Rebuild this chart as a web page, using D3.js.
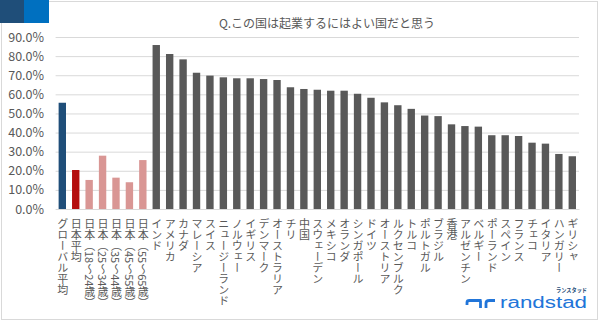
<!DOCTYPE html>
<html><head><meta charset="utf-8">
<script src="https://cdn.jsdelivr.net/npm/d3@7"></script>
<style>
html,body{margin:0;padding:0;background:#fff;}
svg{display:block;font-family:"Noto Sans CJK JP","Noto Sans",sans-serif;}
.vlab{writing-mode:vertical-rl;text-orientation:mixed;font-family:"Noto Sans CJK JP",sans-serif;font-size:11px;line-height:13px;color:#595959;white-space:nowrap;width:13px;height:120px;margin:0;padding:0;}
</style></head>
<body>
<svg id="chart" width="600" height="322"></svg>
<script>
const title = "Q.この国は起業するにはよい国だと思う";
const categories = ["グローバル平均","日本平均","日本（18～24歳）","日本（25～34歳）","日本（35～44歳）","日本（45～55歳）","日本（55～65歳）",
 "インド","アメリカ","カナダ","マレーシア","スイス","ニュージーランド","ノルウェー","イギリス","デンマーク","オーストラリア",
 "チリ","中国","スウェーデン","メキシコ","オランダ","シンガポール","ドイツ","オーストリア","ルクセンブルク","トルコ",
 "ポルトガル","ブラジル","香港","アルゼンチン","ベルギー","ポーランド","スペイン","フランス","チェコ","イタリア","ハンガリー","ギリシャ"];
const values = [55.6,20.4,15.2,27.9,16.4,14.0,25.6,
 85.8,81.1,78.3,71.3,69.8,68.9,68.4,68.4,68.0,67.5,
 63.7,62.8,62.4,61.9,61.9,60.3,58.2,55.8,54.3,52.4,
 48.9,48.6,44.3,43.4,43.1,38.6,38.6,38.2,34.7,34.2,28.8,27.6];
const groups = ["global","japan","age","age","age","age","age"].concat(Array(32).fill("country"));
const yTicks = [0,10,20,30,40,50,60,70,80,90];

const svg = d3.select("#chart");
const color = d3.scaleOrdinal().domain(["global","japan","age","country"]).range(["#1f4e79","#b40d0d","#d99694","#595959"]);

// frame
svg.append("rect").attr("x",1.5).attr("y",1.5).attr("width",596).attr("height",318)
  .attr("fill","none").attr("stroke","#d9d9d9").attr("stroke-width",1);
// header blocks
svg.append("rect").attr("x",0).attr("y",0).attr("width",24).attr("height",23).attr("fill","#1f4e79");
svg.append("rect").attr("x",24).attr("y",0).attr("width",25).attr("height",23).attr("fill","#0070c0");

const x = d3.scaleBand().domain(categories).range([55.6,579]).paddingInner(0.45).paddingOuter(0.225);
const y = d3.scaleLinear().domain([0,90]).range([209,37]);

// gridlines
const grid = svg.append("g").attr("transform","translate(55.6,0)")
  .call(d3.axisLeft(y).tickValues(yTicks).tickSize(-(579-55.6)).tickFormat(""));
grid.select(".domain").remove();
grid.selectAll("line").attr("stroke","#d9d9d9").attr("stroke-width",1);

// y axis labels
const ya = svg.append("g").attr("transform","translate(44,0)")
  .call(d3.axisLeft(y).tickValues(yTicks).tickSize(0).tickPadding(0).tickFormat(d=>d.toFixed(1)+"%"));
ya.select(".domain").remove();
ya.selectAll("text").attr("fill","#595959").style("font-size","12.5px").style("font-family","'Noto Sans CJK JP',sans-serif");

// bars
svg.append("g").selectAll("rect").data(categories).join("rect")
  .attr("x",d=>x(d)).attr("width",x.bandwidth())
  .attr("y",(d,i)=>y(values[i])).attr("height",(d,i)=>y(0)-y(values[i]))
  .attr("fill",(d,i)=>color(groups[i]));

// x axis
const xa = svg.append("g").attr("transform","translate(0,209)")
  .call(d3.axisBottom(x).tickSize(0).tickPadding(0).tickFormat(""));
xa.select(".domain").attr("stroke","#d9d9d9");
xa.selectAll(".tick").each(function(d){
  const fo = d3.select(this).append("foreignObject")
    .attr("x",-6.5).attr("y",9).attr("width",13).attr("height",110);
  fo.append("xhtml:div").attr("class","vlab").text(d);
});

// title
svg.append("text").attr("x",327).attr("y",28).attr("text-anchor","middle")
  .attr("fill","#595959").style("font-size","12px").text(title);

// logo
const blue = "#2175d9";
const logo = svg.append("g");
logo.append("path").attr("d","M467,305 V302.5 Q467,300.5 469.5,300.5 H481.5 M480.5,300.5 V308")
  .attr("fill","none").attr("stroke",blue).attr("stroke-width",2.8);
logo.append("path").attr("d","M486,308 V303 Q486,300.5 489.5,300.5 H495")
  .attr("fill","none").attr("stroke",blue).attr("stroke-width",2.8);
logo.append("text").attr("x",500).attr("y",307.5).attr("fill",blue)
  .attr("textLength",87).attr("lengthAdjust","spacingAndGlyphs")
  .style("font-family","'Liberation Sans',Arial,sans-serif").style("font-size","16px").text("randstad");
logo.append("text").attr("x",556).attr("y",292).attr("fill","#1f4e79")
  .attr("textLength",31).attr("lengthAdjust","spacingAndGlyphs")
  .style("font-size","6px").style("font-weight","bold").text("ランスタッド");
</script>
</body></html>
